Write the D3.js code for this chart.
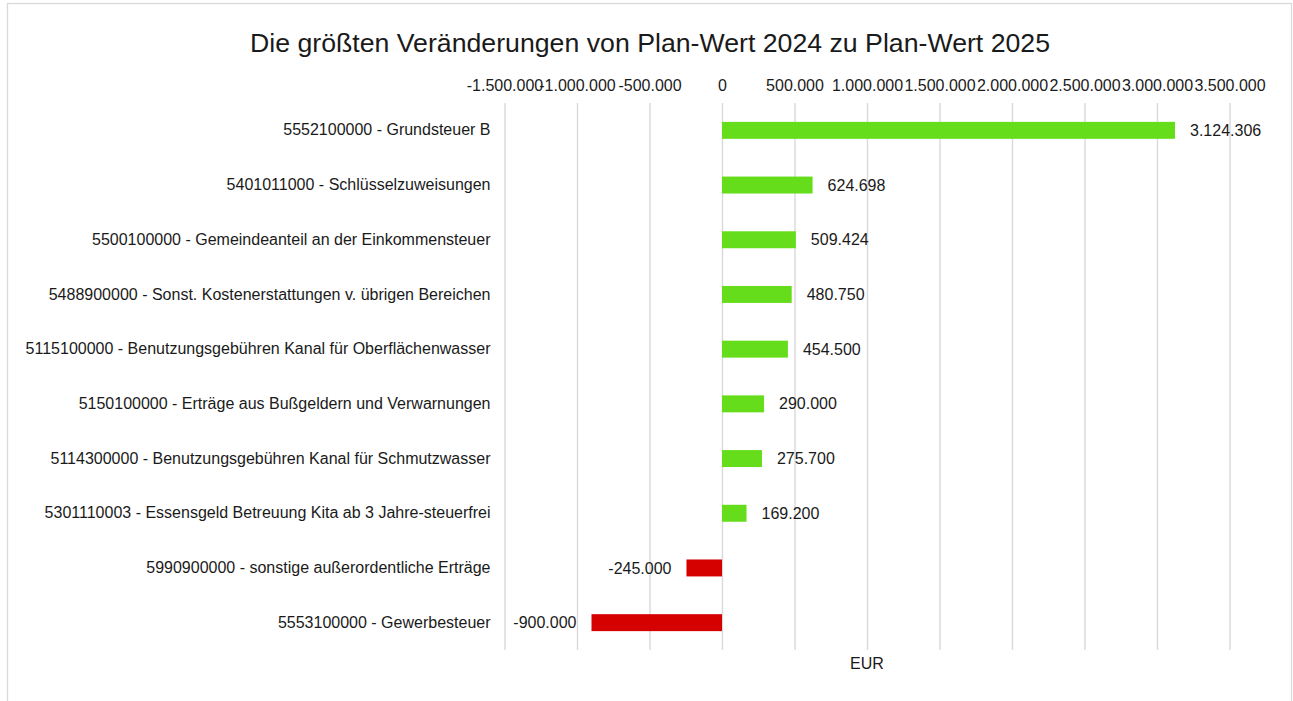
<!DOCTYPE html>
<html>
<head>
<meta charset="utf-8">
<script src="https://cdn.jsdelivr.net/npm/d3@7"></script>
<style>
  body { margin: 0; background: #fff; }
  svg, svg text { font-family: "Liberation Sans", Arial, sans-serif; }
</style>
</head>
<body>
<script>
// data
const categories = [
  "5552100000 - Grundsteuer B",
  "5401011000 - Schlüsselzuweisungen",
  "5500100000 - Gemeindeanteil an der Einkommensteuer",
  "5488900000 - Sonst. Kostenerstattungen v. übrigen Bereichen",
  "5115100000 - Benutzungsgebühren Kanal für Oberflächenwasser",
  "5150100000 - Erträge aus Bußgeldern und Verwarnungen",
  "5114300000 - Benutzungsgebühren Kanal für Schmutzwasser",
  "5301110003 - Essensgeld Betreuung Kita ab 3 Jahre-steuerfrei",
  "5990900000 - sonstige außerordentliche Erträge",
  "5553100000 - Gewerbesteuer"
];
const values = [3124306, 624698, 509424, 480750, 454500, 290000, 275700, 169200, -245000, -900000];
const tickValues = [-1500000, -1000000, -500000, 0, 500000, 1000000, 1500000, 2000000, 2500000, 3000000, 3500000];

const W = 1293, H = 701;
const margin = {top: 103, left: 504.5, right: 63.5, bottom: 51};
const width = W - margin.left - margin.right,
    height = H - margin.top - margin.bottom;

const de = d3.formatLocale({decimal: ",", thousands: ".", grouping: [3], currency: ["", " €"], minus: "-"});
const fmt = de.format(",.0f");

const svg = d3.select("body").append("svg")
    .attr("width", W)
    .attr("height", H);

// chart border
svg.append("rect")
    .attr("x", 7.5).attr("y", 3.5)
    .attr("width", 1284).attr("height", 710)
    .attr("fill", "#fff")
    .attr("stroke", "#d9d9d9")
    .attr("stroke-width", 1.25);

// title
svg.append("text")
    .attr("x", 650).attr("y", 52)
    .attr("text-anchor", "middle")
    .style("font-size", "26.7px")
    .attr("fill", "#1a1a1a")
    .text("Die größten Veränderungen von Plan-Wert 2024 zu Plan-Wert 2025");

const g = svg.append("g")
    .attr("transform", "translate(" + margin.left + "," + margin.top + ")");

const x = d3.scaleLinear()
    .domain([-1500000, 3500000])
    .range([0, width]);

const y = d3.scaleBand()
    .domain(categories)
    .range([0, height])
    .paddingInner(0.69)
    .paddingOuter(0.345);

// gridlines
g.append("g")
    .attr("transform", "translate(0," + height + ")")
    .call(d3.axisBottom(x).tickValues(tickValues).tickSize(-height).tickFormat(""))
    .call(a => a.select(".domain").remove())
    .call(a => a.selectAll("line").attr("stroke", "#d9d9d9").attr("stroke-width", 1.4));

// top axis labels
g.append("g")
    .attr("transform", "translate(0,-12)")
    .call(d3.axisTop(x).tickValues(tickValues).tickSize(0).tickPadding(0).tickFormat(fmt))
    .call(a => a.select(".domain").remove())
    .call(a => a.selectAll("text").style("font-size", "16px").attr("fill", "#1a1a1a"));

// category labels
g.append("g")
    .call(d3.axisLeft(y).tickSize(0).tickPadding(14))
    .call(a => a.select(".domain").remove())
    .call(a => a.selectAll("text").style("font-size", "16px").attr("fill", "#1a1a1a"));

const data = categories.map((c, i) => ({cat: c, val: values[i]}));

// bars
g.selectAll("rect.bar")
    .data(data)
    .enter()
    .append("rect")
    .attr("class", "bar")
    .attr("x", d => x(Math.min(0, d.val)))
    .attr("y", d => y(d.cat))
    .attr("width", d => Math.abs(x(d.val) - x(0)))
    .attr("height", y.bandwidth())
    .attr("fill", d => d.val >= 0 ? "#66dd1a" : "#d50000");

// value labels
g.selectAll("text.lbl")
    .data(data)
    .enter()
    .append("text")
    .attr("class", "lbl")
    .attr("x", d => d.val >= 0 ? x(d.val) + 15 : x(d.val) - 15)
    .attr("y", d => y(d.cat) + y.bandwidth() / 2)
    .attr("dy", "0.35em")
    .attr("text-anchor", d => d.val >= 0 ? "start" : "end")
    .style("font-size", "16px")
    .attr("fill", "#1a1a1a")
    .text(d => fmt(d.val));

// axis title
g.append("text")
    .attr("x", x(1000000))
    .attr("y", height + 19)
    .attr("text-anchor", "middle")
    .style("font-size", "16px")
    .attr("fill", "#1a1a1a")
    .text("EUR");
</script>
</body>
</html>
